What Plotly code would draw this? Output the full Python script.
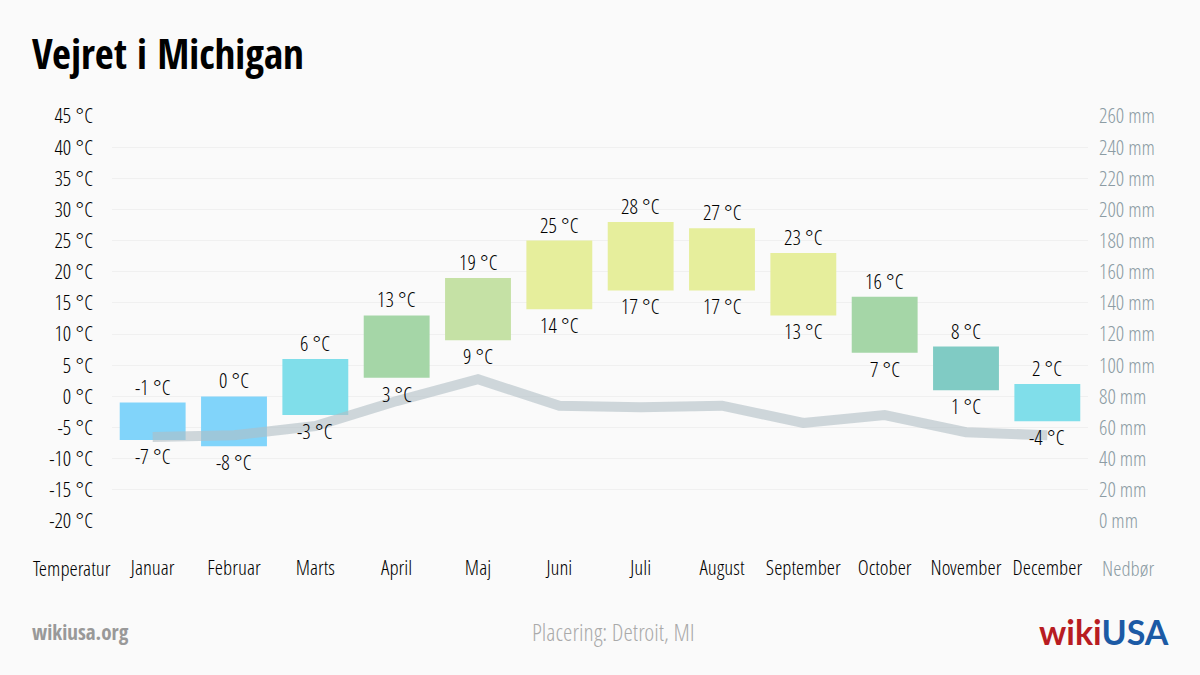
import plotly.graph_objects as go

months = ["Januar", "Februar", "Marts", "April", "Maj", "Juni", "Juli",
          "August", "September", "October", "November", "December"]
temp_max = [-1, 0, 6, 13, 19, 25, 28, 27, 23, 16, 8, 2]
temp_min = [-7, -8, -3, 3, 9, 14, 17, 17, 13, 7, 1, -4]
precip = [54, 55, 61, 77, 91, 74, 73, 74, 63, 68, 57, 55]
bar_colors = ["#81d4fa", "#81d4fa", "#80deea", "#a5d6a7", "#c5e1a5", "#e6ee9c",
              "#e6ee9c", "#e6ee9c", "#e6ee9c", "#a5d6a7", "#80cbc4", "#80deea"]
temp_ticks = list(range(-20, 50, 5))
precip_ticks = list(range(0, 280, 20))

LIGHT = "Open Sans Condensed Light, Open Sans, sans-serif"
BOLD = "Open Sans Condensed, Open Sans, sans-serif"
BG = "#fafafa"
TXT = "#000000"
MUTED = "#8c9ca4"

fig = go.Figure()

fig.add_trace(go.Bar(
    x=months,
    y=[a - b for a, b in zip(temp_max, temp_min)],
    base=temp_min,
    marker=dict(color=bar_colors, line=dict(width=0)),
    width=0.81,
    yaxis="y",
    hoverinfo="skip",
    showlegend=False,
))

fig.add_trace(go.Scatter(
    x=months, y=precip, yaxis="y2", mode="lines",
    line=dict(color="rgba(176,190,197,0.6)", width=10, shape="linear"),
    hoverinfo="skip", showlegend=False,
))

annotations = []
for m, hi, lo in zip(months, temp_max, temp_min):
    annotations.append(dict(x=m, y=hi, xref="x", yref="y", text=f"{hi} °C",
                            showarrow=False, yanchor="middle", yshift=16,
                            font=dict(family=LIGHT, size=21, color=TXT)))
    annotations.append(dict(x=m, y=lo, xref="x", yref="y", text=f"{lo} °C",
                            showarrow=False, yanchor="middle", yshift=-16,
                            font=dict(family=LIGHT, size=21, color=TXT)))

annotations += [
    dict(text="<b>Vejret i Michigan</b>", xref="paper", yref="paper",
         x=(30 - 112) / 976, y=1 + (115 - 52) / 406, xanchor="left", yanchor="middle",
         showarrow=False, font=dict(family=BOLD, size=41, color="#000000")),
    dict(text="Temperatur", xref="paper", yref="paper",
         x=(72 - 112) / 976, y=-(568 - 521) / 406, xanchor="center", yanchor="middle",
         showarrow=False, font=dict(family=LIGHT, size=21, color=TXT)),
    dict(text="Nedbør", xref="paper", yref="paper",
         x=(1128 - 112) / 976, y=-(568 - 521) / 406, xanchor="center", yanchor="middle",
         showarrow=False, font=dict(family=LIGHT, size=21, color=MUTED)),
    dict(text="<b>wikiusa.org</b>", xref="paper", yref="paper",
         x=(30 - 112) / 976, y=-(632 - 521) / 406, xanchor="left", yanchor="middle",
         showarrow=False, font=dict(family=BOLD, size=21, color="#999999")),
    dict(text="Placering: Detroit, MI", xref="paper", yref="paper",
         x=(613 - 112) / 976, y=-(632 - 521) / 406, xanchor="center", yanchor="middle",
         showarrow=False, font=dict(family=LIGHT, size=24, color="#aaaaaa")),
    dict(text="<b><span style='color:#b81c22'>wiki</span><span style='color:#1c5aa5'>USA</span></b>",
         xref="paper", yref="paper",
         x=(1171 - 112) / 976, y=-(632 - 521) / 406, xanchor="right", yanchor="middle",
         showarrow=False, font=dict(family="Lato, Open Sans, sans-serif", size=34)),
]

fig.update_layout(
    width=1200, height=675,
    paper_bgcolor=BG, plot_bgcolor=BG,
    margin=dict(l=112, r=112, t=116, b=154),
    font=dict(family=LIGHT, size=20, color=TXT),
    xaxis=dict(
        type="category", categoryorder="array", categoryarray=months,
        showgrid=False, zeroline=False, showline=False, ticks="",
        tickfont=dict(family=LIGHT, size=21, color=TXT),
        ticklabelstandoff=32,
        range=[-0.5, 11.5],
    ),
    yaxis=dict(
        range=[-20, 45], tickvals=temp_ticks,
        ticktext=[f"{v} °C" for v in temp_ticks],
        showgrid=True, gridcolor="#f0f0f0", gridwidth=1,
        zeroline=False, showline=False, ticks="",
        tickfont=dict(family=LIGHT, size=21, color=TXT),
        ticklabelstandoff=18,
    ),
    yaxis2=dict(
        range=[0, 260], tickvals=precip_ticks,
        ticktext=[f"{v} mm" for v in precip_ticks],
        overlaying="y", side="right",
        showgrid=False, zeroline=False, showline=False, ticks="",
        tickfont=dict(family=LIGHT, size=21, color=MUTED),
        ticklabelstandoff=10,
    ),
    annotations=annotations,
)

fig.write_html("out.html", config={"displayModeBar": False},
               post_script="document.body.style.margin='0';")
